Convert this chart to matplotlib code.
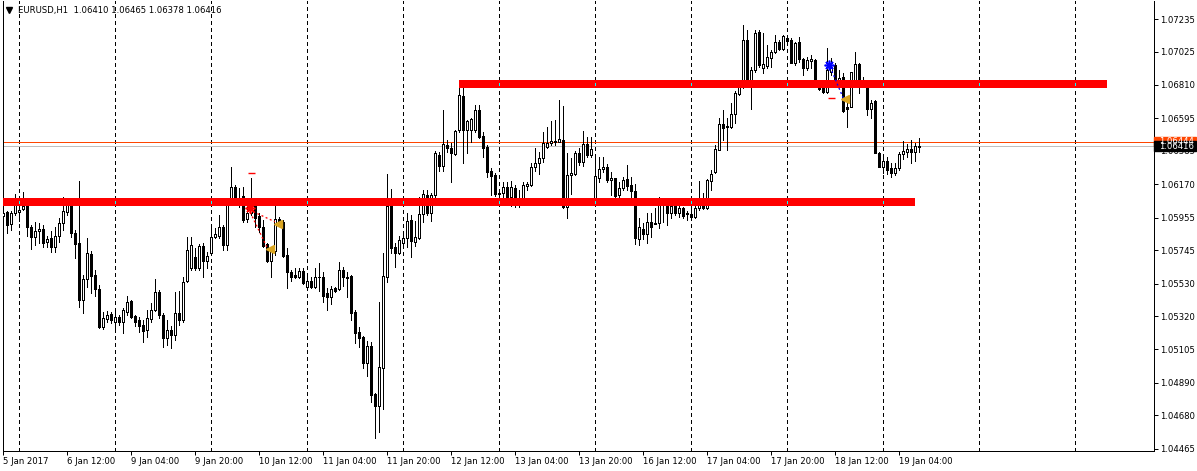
import matplotlib
matplotlib.use("Agg")
import matplotlib.pyplot as plt
import matplotlib.transforms as mtrans
from matplotlib.patches import Rectangle
from matplotlib.lines import Line2D
import numpy as np

plt.rcParams['font.family'] = ['DejaVu Sans']

symbol = "EURUSD,H1"

opens = [1.05967,1.05989,1.05912,1.05982,1.05993,1.06012,1.06028,1.05894,1.05828,1.05866,
1.05879,1.05796,1.05825,1.05763,1.05834,1.05918,1.05993,1.06049,1.05856,1.05791,
1.05424,1.05557,1.05720,1.05585,1.05495,1.05248,1.05301,1.05332,1.05284,1.05316,
1.05284,1.05344,1.05417,1.05321,1.05295,1.05263,1.05232,1.05303,1.05359,1.05473,
1.05327,1.05179,1.05230,1.05198,1.05340,1.05295,1.05546,1.05628,1.05703,1.05630,
1.05774,1.05675,1.05725,1.05828,1.05836,1.05896,1.05778,1.06057,1.06150,1.06036,
1.06094,1.05944,1.05982,1.06031,1.05965,1.05896,1.05783,1.05675,1.05740,1.05944,
1.05928,1.05714,1.05606,1.05585,1.05574,1.05611,1.05509,1.05546,1.05509,1.05570,
1.05570,1.05467,1.05445,1.05499,1.05493,1.05617,1.05574,1.05578,1.05348,1.05219,
1.05183,1.05016,1.05127,1.04816,1.04741,1.04983,1.05574,1.06036,1.05767,1.05725,
1.05789,1.05825,1.05939,1.05799,1.05821,1.05976,1.06101,1.05986,1.06101,1.06358,
1.06287,1.06423,1.06402,1.06365,1.06520,1.06741,1.06520,1.06520,1.06520,1.06648,
1.06481,1.06412,1.06257,1.06230,1.06111,1.06111,1.06150,1.06090,1.06148,1.06040,
1.06075,1.06161,1.06165,1.06283,1.06305,1.06337,1.06412,1.06434,1.06444,1.06444,
1.06455,1.06021,1.06230,1.06236,1.06373,1.06311,1.06429,1.06358,1.06083,1.06208,
1.06266,1.06279,1.06197,1.06208,1.06101,1.06144,1.06202,1.06165,1.06126,1.05817,
1.05881,1.05849,1.05924,1.05915,1.05918,1.06062,1.06068,1.05986,1.06040,1.05982,
1.06015,1.05976,1.05978,1.05961,1.06015,1.06054,1.06015,1.06193,1.06251,1.06393,
1.06556,1.06545,1.06541,1.06621,1.06752,1.06795,1.07100,1.06831,1.06906,1.07153,
1.06921,1.06932,1.06982,1.07020,1.07085,1.07040,1.07111,1.07100,1.06953,1.07085,
1.06975,1.06921,1.06964,1.06971,1.06835,1.06792,1.06766,1.06895,1.06938,1.06821,
1.06859,1.06666,1.06670,1.06831,1.06945,1.06824,1.06821,1.06653,1.06706,1.06373,
1.06279,1.06320,1.06273,1.06244,1.06273,1.06363,1.06380,1.06397,1.06380,1.06410]

highs = [1.06079,1.05997,1.05999,1.06105,1.06079,1.06122,1.06036,1.05907,1.05928,1.05918,
1.05907,1.05838,1.05868,1.05896,1.05950,1.06090,1.06079,1.06079,1.05875,1.06191,
1.05585,1.05821,1.05740,1.05617,1.05520,1.05348,1.05355,1.05348,1.05348,1.05327,
1.05370,1.05450,1.05424,1.05325,1.05316,1.05295,1.05359,1.05402,1.05557,1.05488,
1.05340,1.05295,1.05256,1.05475,1.05482,1.05574,1.05832,1.05832,1.05759,1.05785,
1.05789,1.05735,1.05886,1.05886,1.05972,1.05907,1.06068,1.06283,1.06165,1.06144,
1.06154,1.06047,1.06208,1.06057,1.05982,1.05939,1.05789,1.05757,1.06051,1.05959,
1.05939,1.05757,1.05617,1.05628,1.05628,1.05628,1.05574,1.05574,1.05628,1.05664,
1.05606,1.05499,1.05516,1.05509,1.05671,1.05638,1.05606,1.05585,1.05359,1.05252,
1.05192,1.05159,1.05155,1.04826,1.05413,1.05725,1.06236,1.06137,1.05789,1.05838,
1.05843,1.05982,1.05972,1.05933,1.06090,1.06133,1.06133,1.06111,1.06384,1.06380,
1.06648,1.06455,1.06434,1.06520,1.06842,1.06831,1.06584,1.06595,1.06681,1.06681,
1.06509,1.06423,1.06272,1.06240,1.06122,1.06186,1.06186,1.06191,1.06165,1.06133,
1.06182,1.06182,1.06305,1.06402,1.06380,1.06505,1.06541,1.06580,1.06584,1.06713,
1.06676,1.06369,1.06337,1.06384,1.06402,1.06513,1.06476,1.06476,1.06354,1.06347,
1.06347,1.06298,1.06251,1.06212,1.06186,1.06218,1.06294,1.06218,1.06170,1.05950,
1.05918,1.05982,1.05982,1.06015,1.06090,1.06083,1.06083,1.06057,1.06047,1.06036,
1.06025,1.05997,1.06036,1.06036,1.06191,1.06111,1.06204,1.06262,1.06423,1.06595,
1.06648,1.06595,1.06692,1.06771,1.06842,1.07196,1.07164,1.06928,1.07164,1.07164,
1.07143,1.07067,1.07035,1.07132,1.07100,1.07132,1.07121,1.07111,1.07089,1.07121,
1.06982,1.06992,1.07003,1.06975,1.06842,1.06809,1.07046,1.06982,1.06949,1.06906,
1.06885,1.06713,1.06895,1.07020,1.06949,1.06863,1.06831,1.06713,1.06713,1.06380,
1.06347,1.06347,1.06305,1.06305,1.06380,1.06451,1.06429,1.06455,1.06434,1.06465]

lows = [1.05896,1.05854,1.05875,1.05972,1.05933,1.06004,1.05838,1.05751,1.05778,1.05789,
1.05767,1.05767,1.05735,1.05731,1.05799,1.05875,1.05972,1.05832,1.05696,1.05381,
1.05342,1.05510,1.05467,1.05450,1.05243,1.05235,1.05284,1.05274,1.05245,1.05263,
1.05213,1.05327,1.05306,1.05256,1.05219,1.05155,1.05187,1.05284,1.05355,1.05308,
1.05121,1.05134,1.05114,1.05166,1.05263,1.05282,1.05540,1.05617,1.05617,1.05617,
1.05574,1.05628,1.05714,1.05821,1.05821,1.05746,1.05746,1.06036,1.06047,1.06025,
1.05928,1.05928,1.05972,1.05896,1.05864,1.05767,1.05671,1.05574,1.05714,1.05914,
1.05703,1.05499,1.05546,1.05564,1.05564,1.05525,1.05499,1.05499,1.05499,1.05484,
1.05413,1.05359,1.05398,1.05477,1.05488,1.05516,1.05445,1.05295,1.05145,1.05123,
1.04983,1.04934,1.04768,1.04532,1.04575,1.04719,1.05538,1.05725,1.05634,1.05720,
1.05757,1.05767,1.05703,1.05774,1.05815,1.05928,1.05972,1.05935,1.06079,1.06257,
1.06257,1.06380,1.06186,1.06358,1.06509,1.06305,1.06369,1.06444,1.06509,1.06466,
1.06347,1.06218,1.06101,1.06096,1.06090,1.06047,1.06036,1.06030,1.06025,1.06025,
1.06047,1.06133,1.06159,1.06255,1.06234,1.06311,1.06402,1.06423,1.06423,1.06444,
1.06015,1.05954,1.06107,1.06230,1.06294,1.06290,1.06347,1.06347,1.06079,1.06186,
1.06251,1.06186,1.06101,1.06090,1.06068,1.06133,1.06133,1.06057,1.05783,1.05778,
1.05817,1.05789,1.05832,1.05914,1.05890,1.05928,1.05907,1.05950,1.05972,1.05961,
1.05950,1.05939,1.05946,1.05950,1.06004,1.06010,1.06010,1.06133,1.06240,1.06391,
1.06455,1.06391,1.06530,1.06563,1.06745,1.06788,1.06821,1.06655,1.06891,1.06928,
1.06885,1.06917,1.06928,1.07014,1.07035,1.07035,1.07078,1.06949,1.06938,1.06960,
1.06874,1.06906,1.06917,1.06821,1.06777,1.06760,1.06756,1.06874,1.06821,1.06799,
1.06638,1.06537,1.06666,1.06821,1.06756,1.06799,1.06616,1.06595,1.06369,1.06279,
1.06240,1.06236,1.06215,1.06230,1.06262,1.06331,1.06347,1.06309,1.06322,1.06378]

closes = [1.05986,1.05907,1.05982,1.06047,1.06004,1.06028,1.05892,1.05828,1.05868,1.05881,
1.05793,1.05817,1.05763,1.05836,1.05918,1.05997,1.06051,1.05854,1.05786,1.05424,
1.05559,1.05725,1.05580,1.05493,1.05248,1.05306,1.05327,1.05295,1.05316,1.05284,
1.05359,1.05413,1.05316,1.05284,1.05258,1.05226,1.05308,1.05357,1.05475,1.05327,
1.05179,1.05230,1.05198,1.05340,1.05295,1.05542,1.05746,1.05778,1.05632,1.05774,
1.05675,1.05707,1.05832,1.05849,1.05896,1.05778,1.06062,1.06150,1.06062,1.06057,
1.05939,1.05982,1.06036,1.05950,1.05896,1.05774,1.05675,1.05742,1.05944,1.05927,
1.05709,1.05606,1.05574,1.05574,1.05611,1.05535,1.05546,1.05509,1.05570,1.05574,
1.05450,1.05445,1.05495,1.05484,1.05617,1.05570,1.05567,1.05342,1.05213,1.05181,
1.05016,1.05127,1.04811,1.04743,1.04990,1.05578,1.06030,1.05757,1.05725,1.05810,
1.05821,1.05935,1.05806,1.05832,1.05976,1.06105,1.05986,1.06101,1.06369,1.06287,
1.06427,1.06402,1.06373,1.06513,1.06745,1.06520,1.06578,1.06590,1.06648,1.06476,
1.06405,1.06251,1.06223,1.06105,1.06105,1.06150,1.06090,1.06150,1.06040,1.06075,
1.06165,1.06171,1.06279,1.06305,1.06341,1.06434,1.06434,1.06451,1.06451,1.06461,
1.06021,1.06230,1.06240,1.06369,1.06311,1.06429,1.06358,1.06397,1.06223,1.06266,
1.06279,1.06197,1.06208,1.06096,1.06148,1.06197,1.06159,1.06126,1.05821,1.05892,
1.05849,1.05924,1.05896,1.05922,1.06057,1.06051,1.05986,1.06030,1.05982,1.06019,
1.05967,1.05982,1.05961,1.06015,1.06054,1.06015,1.06197,1.06234,1.06395,1.06556,
1.06534,1.06537,1.06621,1.06756,1.06795,1.07100,1.06824,1.06906,1.07143,1.06938,
1.06943,1.06988,1.07020,1.07085,1.07040,1.07125,1.07095,1.06953,1.07082,1.06975,
1.06921,1.06971,1.06975,1.06831,1.06784,1.06766,1.06906,1.06928,1.06837,1.06853,
1.06644,1.06657,1.06891,1.06945,1.06809,1.06816,1.06653,1.06696,1.06373,1.06279,
1.06320,1.06262,1.06244,1.06273,1.06363,1.06384,1.06397,1.06380,1.06416,1.06416]

time_labels = ["5 Jan 2017", "6 Jan 12:00", "9 Jan 04:00", "9 Jan 20:00", "10 Jan 12:00",
               "11 Jan 04:00", "11 Jan 20:00", "12 Jan 12:00", "13 Jan 04:00", "13 Jan 20:00",
               "16 Jan 12:00", "17 Jan 04:00", "17 Jan 20:00", "18 Jan 12:00", "19 Jan 04:00"]
time_label_bars = [0, 16, 32, 48, 64, 80, 96, 112, 128, 144, 160, 176, 192, 208, 224]
grid_bars = [4, 28, 52, 76, 100, 124, 148, 172, 196, 220, 244, 268]
price_ticks = [1.07235, 1.07025, 1.06810, 1.06595, 1.06385, 1.06170, 1.05955,
               1.05745, 1.05530, 1.05320, 1.05105, 1.04890, 1.04680, 1.04465]

# horizontal levels drawn on chart: (price, first bar, last bar)
levels = [(1.06816, 114, 276), (1.06057, -1, 228)]
bid = 1.06416
ask = 1.06444

# trade history marks
sell_open = (61.55, 1.06020)
sell_stop = (61.25, 62.9, 1.06240)
sell_paths = [((61.25, 65.85), (1.06015, 1.05767)), ((62.5, 67.9), (1.05993, 1.05928))]
sell_closes = [(66.55, 1.05751), (68.55, 1.05914)]
buy_open = (206.35, 1.06939)
buy_stop = (206.2, 207.9, 1.06724)
buy_paths = [((206.7, 210.0), (1.06926, 1.06724))]
buy_closes = [(210.4, 1.06717)]

W, H = 1197, 471
PX = 0.72  # one pixel in points
FS = 6.1
fig = plt.figure(figsize=(W / 100, H / 100), dpi=100)
ax = fig.add_axes([2.5 / W, 20 / H, (1154 - 2.5) / W, 450 / H])
ax.set_xlim(-0.2, 287.675)
ax.set_ylim(1.044504, 1.073511)
price_px = (1.073511 - 1.044504) / 450.0

x = np.arange(len(opens))
o = np.array(opens); h = np.array(highs); l = np.array(lows); c = np.array(closes)

# grid
for g in grid_bars:
    ax.axvline(g, color='black', lw=PX, linestyle=(0, (3, 3)), zorder=1, antialiased=False)

# bid / ask lines
ax.axhline(bid, color='#C0C0C0', lw=PX, zorder=1.5, antialiased=False)
ax.axhline(ask, color='#FF4500', lw=PX, zorder=1.5, antialiased=False)

# candles
ax.vlines(x, l, h, color='black', lw=PX, zorder=2, antialiased=False)
bottoms = np.minimum(o, c)
heights = np.maximum(np.abs(c - o), 1e-7)
fcolors = ['white' if cc >= oo else 'black' for oo, cc in zip(o, c)]
ax.bar(x, heights, width=0.5, bottom=bottoms, color=fcolors, edgecolor='black',
       linewidth=PX, antialiased=False, zorder=3)

# thick red levels
for price, b0, b1 in levels:
    ax.hlines(price, max(b0, -0.2), b1, color='#FF0000', lw=7.7 * PX, zorder=4,
              capstyle='butt', antialiased=False)
    for g in grid_bars:
        if b0 < g < b1:
            ax.vlines(g, price - 1.0 * price_px, price + 1.0 * price_px, color='#00FFFF',
                      lw=PX, zorder=4.5, antialiased=False)

# trade marks
ax.plot(*sell_open, marker=(8, 2, 0), ms=7, color='red', mew=1.2, zorder=6)
ax.hlines(sell_stop[2], sell_stop[0], sell_stop[1], color='red', lw=1.4 * PX, zorder=6)
for xs, ys in sell_paths:
    ax.plot(xs, ys, color='red', lw=1.3 * PX, linestyle=(0, (1.5, 2.0)), zorder=6)
for cx, cy in sell_closes:
    ax.plot(cx, cy, marker='<', ms=5.5, color='#DAA520', mec='#DAA520', zorder=6)
ax.plot(*buy_open, marker=(8, 2, 0), ms=7, color='#0000FF', mew=1.2, zorder=6)
ax.hlines(buy_stop[2], buy_stop[0], buy_stop[1], color='red', lw=1.4 * PX, zorder=6)
for xs, ys in buy_paths:
    ax.plot(xs, ys, color='#0000FF', lw=1.3 * PX, linestyle=(0, (1.5, 2.0)), zorder=6)
for cx, cy in buy_closes:
    ax.plot(cx, cy, marker='<', ms=5.5, color='#DAA520', mec='#DAA520', zorder=6)

# axes styling
for side in ['left', 'right', 'bottom']:
    ax.spines[side].set_linewidth(PX)
    ax.spines[side].set_color('black')
ax.spines['top'].set_visible(False)
ax.yaxis.tick_right()
ax.set_yticks(price_ticks)
ax.set_yticklabels([f"{v:.5f}" for v in price_ticks])
ax.tick_params(axis='y', direction='out', length=4 * PX, width=PX, pad=2 * PX,
               labelsize=FS, colors='black')
ax.set_xticks(time_label_bars)
ax.set_xticklabels(time_labels, ha='left')
ax.tick_params(axis='x', direction='out', length=4 * PX, width=PX, pad=2.5 * PX,
               labelsize=FS, colors='black')

# current price labels on the price scale
blend = mtrans.blended_transform_factory(ax.transAxes, ax.transData)
box_w = 42 / 1151.5
for price, col in [(ask, '#FF4500'), (bid, 'black')]:
    ax.add_patch(Rectangle((1.0, price - 4.5 * price_px), box_w, 9.5 * price_px,
                           transform=blend, facecolor=col, edgecolor=col,
                           clip_on=False, zorder=10))
    ax.text((1159 - 2.5) / 1151.5, price, f"{price:.5f}", transform=blend, color='white',
            fontsize=FS, va='center', ha='left', clip_on=False, zorder=11)

# header
fig.text(18 / W, 1 - 10.5 / H,
         f"{symbol}  {opens[-1]:.5f} {highs[-1]:.5f} {lows[-1]:.5f} {closes[-1]:.5f}",
         fontsize=FS, va='center', ha='left', color='black')
fig.add_artist(Line2D([9 / W], [1 - 10 / H], marker='v', ms=4.5, color='black',
                      transform=fig.transFigure))

fig.savefig("out.png", dpi=100, facecolor='white')
